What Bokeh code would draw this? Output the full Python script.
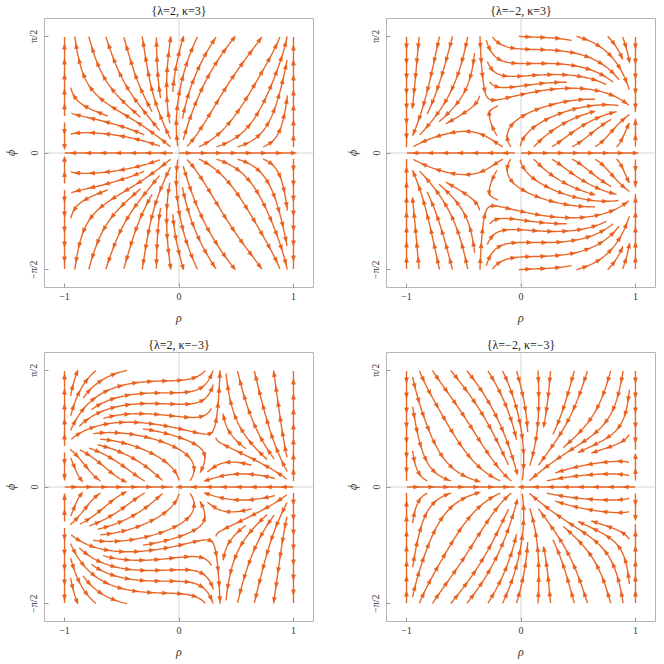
import math
from collections import deque

from bokeh.plotting import figure
from bokeh.layouts import gridplot
from bokeh.models import Range1d, FixedTicker, CustomJSTickFormatter, Span
from bokeh.embed import file_html
from bokeh.resources import INLINE

# ---------------- chart data ----------------
LAMBDA = [2, -2, 2, -2]
KAPPA = [3, 3, -3, -3]
TITLES = ["{λ=2, κ=3}", "{λ=−2, κ=3}", "{λ=2, κ=−3}", "{λ=−2, κ=−3}"]
RHO_TICKS = [-1, 0, 1]
RHO_TICK_LABELS = ["−1", "0", "1"]
PHI_TICKS = [-math.pi / 2, 0.0, math.pi / 2]
PHI_TICK_LABELS = ["−π/2", "0", "π/2"]
RHO_RANGE = [-1.0, 1.0]
PHI_RANGE = [-math.pi / 2, math.pi / 2]

# vector-field coefficients for kappa > 0 (kappa < 0 follows from rho -> -rho, t -> -t)
# P = (1-r^2)(a r + s(c + e r)),  Q = sin(phi)(d + b1 r + s(b2 + b3 r + b4 r^2) + b5 r t)
COEF_LAMBDA_POS = [2.5, 0.45, 0.0, 3.0, 4.0, -0.22, -4.57, 0.0, 0.0]
COEF_LAMBDA_NEG = [1.2, 4.13, 10.0, 2.5, 4.17, -3.0, 0.0, -18.8, -4.0]

ORANGE = "#E8601C"
FONT = "Liberation Serif"


def make_field(lam, kap):
    if kap < 0:
        base = make_field(-lam, -kap)

        def g(r, p):
            u, v = base(-r, p)
            return u, -v
        return g
    a, c, e, d, b1, b2, b3, b4, b5 = COEF_LAMBDA_POS if lam > 0 else COEF_LAMBDA_NEG

    def g(r, p):
        sp = math.sin(p)
        s = sp * sp
        t = s * (1.0 - s)
        P = (1.0 - r * r) * (a * r + s * (c + e * r))
        Q = sp * (d + b1 * r + s * (b2 + b3 * r + b4 * r * r) + b5 * r * t)
        return P, Q
    return g


def build_lines(fld, Sx, Sy, dsep=12.5, dtest=6.0, h=1.0, min_len=12.0):
    W = (RHO_RANGE[1] - RHO_RANGE[0]) * Sx
    H = PHI_RANGE[1] * Sy
    cell = dsep
    grid = {}
    lines = []

    def vel(X, Y):
        P, Q = fld(RHO_RANGE[0] + X / Sx, Y / Sy)
        vx, vy = P * Sx, Q * Sy
        n = math.hypot(vx, vy)
        if n < 0.4:
            return None
        return vx / n, vy / n

    def inside(X, Y):
        return -1e-9 <= X <= W + 1e-9 and -1e-9 <= Y <= H + 1e-9

    def near(X, Y, dist):
        cx, cy = int(X // cell), int(Y // cell)
        d2 = dist * dist
        for i in (-1, 0, 1):
            for j in (-1, 0, 1):
                for (px, py) in grid.get((cx + i, cy + j), ()):
                    if (px - X) ** 2 + (py - Y) ** 2 < d2:
                        return True
        return False

    def advance(X, Y, sg):
        k1 = vel(X, Y)
        if k1 is None:
            return None
        k2 = vel(X + 0.5 * h * sg * k1[0], Y + 0.5 * h * sg * k1[1])
        if k2 is None or k1[0] * k2[0] + k1[1] * k2[1] < 0.5:
            return None
        return X + h * sg * k2[0], Y + h * sg * k2[1]

    def trace(sx, sy):
        halves = []
        for sg in (1, -1):
            pts = []
            X, Y = sx, sy
            for _ in range(3000):
                nxt = advance(X, Y, sg)
                if nxt is None:
                    break
                X, Y = nxt
                if not inside(X, Y) or near(X, Y, dtest):
                    break
                pts.append((X, Y))
            halves.append(pts)
        return halves[1][::-1] + [(sx, sy)] + halves[0]

    def try_seed(sx, sy):
        if not inside(sx, sy) or near(sx, sy, dsep * 0.98) or vel(sx, sy) is None:
            return None
        pts = trace(sx, sy)
        L = sum(math.hypot(pts[k + 1][0] - pts[k][0], pts[k + 1][1] - pts[k][1])
                for k in range(len(pts) - 1))
        if L < min_len:
            return None
        for (x, y) in pts:
            grid.setdefault((int(x // cell), int(y // cell)), []).append((x, y))
        lines.append(pts)
        return pts

    def expand(queue):
        while queue:
            sx, sy = queue.popleft()
            pts = try_seed(sx, sy)
            if pts is None:
                continue
            for k in range(1, len(pts) - 1, 3):
                tx = pts[k + 1][0] - pts[k - 1][0]
                ty = pts[k + 1][1] - pts[k - 1][1]
                tn = math.hypot(tx, ty) or 1.0
                nx, ny = -ty / tn, tx / tn
                queue.append((pts[k][0] + nx * dsep, pts[k][1] + ny * dsep))
                queue.append((pts[k][0] - nx * dsep, pts[k][1] - ny * dsep))

    init = [(0.75 * W, 0.0), (0.25 * W, 0.0), (W, 0.6 * H), (0.0, 0.6 * H),
            (W, 0.15 * H), (0.0, 0.15 * H), (0.5 * W, 0.5 * H)]
    expand(deque(init))
    step = dsep / 2
    yy = step / 2
    while yy < H:
        xx = step / 2
        while xx < W:
            expand(deque([(xx, yy)]))
            xx += step
        yy += step
    return lines


def panel(i):
    lam, kap = LAMBDA[i], KAPPA[i]
    fld = make_field(lam, kap)
    xr = Range1d(-1.175, 1.175)
    yr = Range1d(-1.81, 1.81)
    fw = fh = 269
    Sx = fw / (xr.end - xr.start)
    Sy = fh / (yr.end - yr.start)
    lines = build_lines(fld, Sx, Sy)

    xs, ys, hx, hy = [], [], [], []
    spacing = 15.0
    L_head, w_head = 5.5, 2.1
    for pts in lines:
        for sgn in (1, -1):
            if sgn == -1 and all(abs(p[1]) < 1e-9 for p in pts):
                continue
            xs.append([RHO_RANGE[0] + p[0] / Sx for p in pts])
            ys.append([sgn * p[1] / Sy for p in pts])
            acc = 0.0
            nxt = spacing * 0.55
            for k in range(1, len(pts)):
                X0, Y0 = pts[k - 1][0], sgn * pts[k - 1][1]
                X1, Y1 = pts[k][0], sgn * pts[k][1]
                dx, dy = X1 - X0, Y1 - Y0
                seg = math.hypot(dx, dy)
                acc += seg
                if acc >= nxt and seg > 0:
                    ux, uy = dx / seg, dy / seg
                    px, py = -uy, ux
                    tipx, tipy = X1 + ux * L_head * 0.6, Y1 + uy * L_head * 0.6
                    bx, by = X1 - ux * L_head * 0.4, Y1 - uy * L_head * 0.4
                    tri = [(tipx, tipy), (bx + px * w_head, by + py * w_head),
                           (bx - px * w_head, by - py * w_head)]
                    hx.append([RHO_RANGE[0] + q[0] / Sx for q in tri])
                    hy.append([q[1] / Sy for q in tri])
                    nxt += spacing

    left = i % 2 == 0
    top = i < 2
    p = figure(frame_width=fw, frame_height=fh, x_range=xr, y_range=yr,
               output_backend="svg", toolbar_location=None,
               min_border_left=36 if left else 54,
               min_border_right=19 if left else 1,
               min_border_top=4 if top else 25,
               min_border_bottom=36 if top else 30)
    p.title.text = TITLES[i]
    p.title.align = "center"
    p.title.text_font = FONT
    p.title.text_font_size = "12px"
    p.title.text_font_style = "normal"
    p.title.text_color = "#222222"
    p.title.standoff = 2
    p.outline_line_color = "#b5b5b5"
    p.grid.visible = False
    p.background_fill_color = "white"

    p.add_layout(Span(location=0, dimension="height", line_color="#d6d6d6",
                      line_width=1, level="underlay"))
    p.add_layout(Span(location=0, dimension="width", line_color="#d6d6d6",
                      line_width=1, level="underlay"))

    p.multi_line(xs, ys, line_color=ORANGE, line_width=1.4, line_alpha=0.95)
    p.patches(hx, hy, fill_color=ORANGE, line_color=ORANGE, line_width=0.4)

    for axis in (p.xaxis, p.yaxis):
        axis.axis_line_color = None
        axis.major_tick_in = 4
        axis.major_tick_out = 0
        axis.minor_tick_line_color = None
        axis.major_tick_line_color = "#999999"
        axis.major_label_text_font = FONT
        axis.major_label_text_font_size = "10px"
        axis.major_label_text_color = "#333333"
        axis.axis_label_text_font = FONT
        axis.axis_label_text_font_size = "12px"
        axis.axis_label_text_font_style = "italic"
        axis.axis_label_text_color = "#333333"
    p.xaxis.ticker = FixedTicker(ticks=RHO_TICKS)
    p.xaxis.major_label_overrides = {t: s for t, s in zip(RHO_TICKS, RHO_TICK_LABELS)}
    p.xaxis.axis_label = "ρ"
    p.xaxis.axis_label_standoff = 8
    p.yaxis.ticker = FixedTicker(ticks=PHI_TICKS)
    p.yaxis.formatter = CustomJSTickFormatter(
        args=dict(labels=PHI_TICK_LABELS),
        code="if (Math.abs(tick) < 1e-9) { return labels[1]; } return tick > 0 ? labels[2] : labels[0];")
    p.yaxis.major_label_orientation = "vertical"
    p.yaxis.axis_label = "ϕ"
    p.yaxis.axis_label_standoff = 8
    return p


figs = [panel(i) for i in range(4)]
grid = gridplot([[figs[0], figs[1]], [figs[2], figs[3]]], toolbar_location=None)
open("out.html", "w").write(file_html(grid, INLINE))
